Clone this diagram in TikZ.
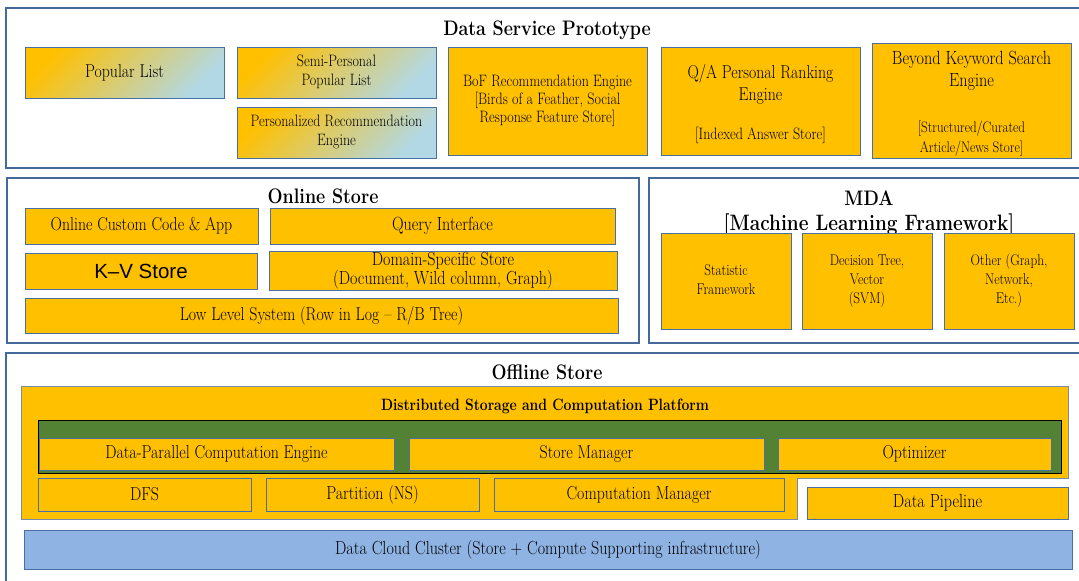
\documentclass[tikz,border=0pt]{standalone}
\usepackage{fontspec}
\usepackage{graphicx}
\newfontfamily\kvsans{Liberation Sans}

\definecolor{gold}{HTML}{FFC000}
\definecolor{framecol}{HTML}{46699B}
\definecolor{boxline}{HTML}{4A6FA5}
\definecolor{peach}{HTML}{E3CBB0}
\definecolor{paleblue}{HTML}{B2D8E6}
\definecolor{leaf}{HTML}{548235}
\definecolor{cloud}{HTML}{8FB4E3}
\definecolor{platline}{HTML}{7A8CA5}

% font size helper and condensed text helpers
\newcommand{\setfs}[2]{\fontsize{#1}{#2}\selectfont}
\newcommand{\czl}[1]{\scalebox{0.85}[1]{#1}}
\newcommand{\cz}[1]{\scalebox{0.85}[1]{\begin{tabular}{@{}c@{}}#1\end{tabular}}}

\begin{document}
\begin{tikzpicture}[x=1pt,y=-1pt,
  % a box given by its corners: {x1}{y1}{x2}{y2}
  spanbox/.style n args={4}{minimum width={(#3)-(#1)}, minimum height={(#4)-(#2)},
    at={({((#1)+(#3))/2},{((#2)+(#4))/2})}},
  frame/.style={draw=framecol, line width=2.4pt, inner sep=0pt},
  ybox/.style={draw=boxline, line width=0.9pt, fill=gold, inner sep=0pt, font=\setfs{18.7}{22}},
  gbox/.style={draw=boxline, line width=0.9pt, inner sep=0pt,
    top color=gold, middle color=peach, bottom color=paleblue, shading angle=45},
  cbox/.style={draw=boxline, line width=0.9pt, fill=cloud, inner sep=0pt, font=\setfs{18.9}{22}},
  ttl/.style={inner sep=0pt, font=\bfseries\setfs{21}{25}}]

\useasboundingbox (0,0) rectangle (1079,581);
\fill[white] (0,0) rectangle (1079,581);

% ---------- outer frames ----------
\node[frame, spanbox={6}{8}{1088}{168}] (dsp) {};
\node[frame, spanbox={7}{178}{639}{343}] (online) {};
\node[frame, spanbox={649}{178}{1089}{343}] (mda) {};
\node[frame, spanbox={6}{353}{1088}{595}] (offline) {};

% ---------- frame titles ----------
\node[ttl, anchor=base] (t-dsp) at (547,35) {\czl{Data Service Prototype}};
\node[ttl, anchor=base] (t-on) at (323,203) {\czl{Online Store}};
\node[ttl, anchor=base] (t-mda1) at (869,205) {\czl{MDA}};
\node[ttl, font=\bfseries\setfs{22.3}{26}, anchor=base] (t-mda2) at (869,230) {\czl{[Machine Learning Framework]}};
\node[ttl, anchor=base] (t-off) at (547,379) {\czl{Offline Store}};

% ---------- data service prototype ----------
\node[gbox, font=\setfs{18.6}{22}, spanbox={25}{47}{224}{98}] (pl) {\czl{Popular List}};
\node[gbox, font=\setfs{16.5}{19}, spanbox={237}{47}{436}{98}] (spl) {\cz{Semi-Personal\\Popular List}};
\node[gbox, font=\setfs{16.5}{19}, spanbox={237}{107}{436}{158}] (prec) {\cz{Personalized Recommendation\\Engine}};
\node[ybox, font=\setfs{16.5}{18}, spanbox={448}{47}{647}{155}] (bof)
  {\cz{BoF Recommendation Engine\\{}[Birds of a Feather, Social\\Response Feature Store]}};
\node[ybox, font=\setfs{18.6}{22}, spanbox={661}{47}{860}{155}] (qa)
  {\cz{\rule{0pt}{21.6pt}Q/A Personal Ranking\\Engine\\[17pt]{\setfs{16.5}{18}[Indexed Answer Store]}}};
\node[ybox, font=\setfs{19.1}{22}, spanbox={872}{47}{1071}{155}] (bks)
  {\cz{\rule{0pt}{20.6pt}Beyond Keyword Search\\Engine\\[24pt]{\setfs{15.3}{18}[Structured/Curated}\\[-2pt]{\setfs{15.3}{18}Article/News Store]}}};

% ---------- online store ----------
\node[ybox, font=\setfs{18.6}{22}, spanbox={25}{208}{258}{244}] (occ) {\czl{Online Custom Code \& App}};
\node[ybox, font=\setfs{19}{22}, spanbox={270}{208}{615}{244}] (qi) {\czl{Query Interface}};
\node[ybox, font=\kvsans\setfs{20.5}{24}, spanbox={25}{253}{257}{289}] (kv) {K–V Store};
\node[ybox, font=\setfs{18.9}{18}, spanbox={269}{253}{617}{289}] (dss) {\cz{Domain-Specific Store\\(Document, Wild column, Graph)}};
\node[ybox, spanbox={25}{298}{618}{333}] (lls) {\czl{Low Level System (Row in Log – R/B Tree)}};

% ---------- MDA ----------
\node[ybox, font=\setfs{15.5}{19}, spanbox={661}{233}{791}{329}] (stat) {\cz{Statistic\\Framework}};
\node[ybox, font=\setfs{15.5}{19}, spanbox={802}{233}{932}{329}] (dtree) {\cz{Decision Tree,\\Vector\\(SVM)}};
\node[ybox, font=\setfs{15.5}{19}, spanbox={944}{233}{1074}{329}] (other) {\cz{Other (Graph,\\Network,\\Etc.)}};

% ---------- offline store ----------
% platform body with notch for the pipeline
\draw[platline, line width=0.9pt, fill=gold]
  (21,386) -- (1068,386) -- (1068,478) -- (797,478) -- (797,519) -- (21,519) -- cycle;
\node[ttl, font=\bfseries\setfs{16.4}{19}, anchor=base] (t-dist) at (545,410)
  {\czl{Distributed Storage and Computation Platform}};
\node[draw=black, line width=1pt, fill=leaf, inner sep=0pt, spanbox={38}{420}{1061}{473}] (bar) {};
\node[ybox, spanbox={39}{438}{394}{470}] (dpce) {\czl{Data-Parallel Computation Engine}};
\node[ybox, spanbox={409}{438}{764}{470}] (sm) {\czl{Store Manager}};
\node[ybox, spanbox={778}{438}{1051}{470}] (opt) {\czl{Optimizer}};
\node[ybox, spanbox={38}{478}{251}{511}] (dfs) {\czl{DFS}};
\node[ybox, spanbox={266}{478}{479}{511}] (part) {\czl{Partition (NS)}};
\node[ybox, spanbox={494}{478}{784}{511}] (cm) {\czl{Computation Manager}};
\node[ybox, font=\setfs{19}{22}, spanbox={807}{487}{1068}{519}] (dp) {\czl{Data Pipeline}};
\node[cbox, spanbox={24}{530}{1072}{569}] (dcc) {\czl{Data Cloud Cluster (Store + Compute Supporting infrastructure)}};

\end{tikzpicture}
\end{document}
